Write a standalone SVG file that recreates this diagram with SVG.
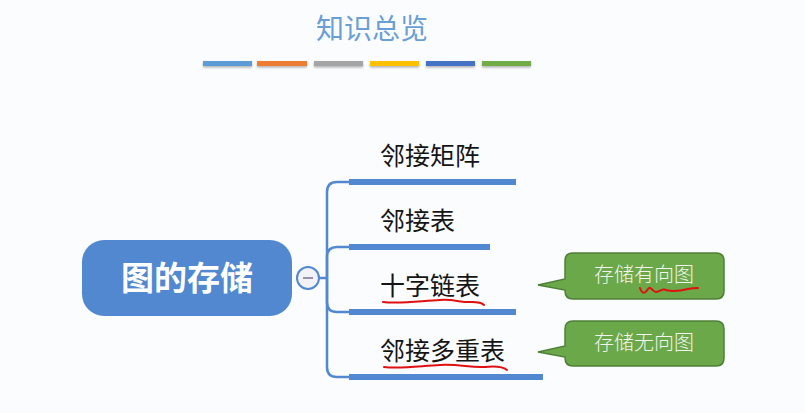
<svg xmlns="http://www.w3.org/2000/svg" width="805" height="413" viewBox="0 0 805 413">
<defs>
<style>
.t{font-family:"Noto Sans CJK SC","Liberation Sans",sans-serif}
.br{font-size:25px;fill:#151515}
.bar{fill:#5188d0}
.ln{fill:none;stroke:#5188d0;stroke-width:2.5}
.cb{fill:#6aa84a;stroke:#4f7f37;stroke-width:1.5}
.ct{font-size:20px;fill:#f2f5ee;font-weight:300}
.red{fill:none;stroke:#e01010;stroke-width:2;stroke-linecap:round;stroke-linejoin:round}
</style>
<filter id="sh" x="-10%" y="-50%" width="120%" height="250%"><feDropShadow dx="0" dy="1.5" stdDeviation="1" flood-color="#000" flood-opacity="0.3"/></filter>
</defs>
<rect width="805" height="413" fill="#fbfcfe"/>
<g id="title">
<text class="t" x="372" y="39" font-size="28" fill="#6a9fd4" text-anchor="middle">知识总览</text>
<g filter="url(#sh)">
<rect x="203" y="61" width="49" height="5" fill="#5b9bd5"/>
<rect x="257" y="61" width="50" height="5" fill="#ed7d31"/>
<rect x="314" y="61" width="49" height="5" fill="#a5a5a5"/>
<rect x="370" y="61" width="49" height="5" fill="#ffc000"/>
<rect x="426" y="61" width="49" height="5" fill="#4472c4"/>
<rect x="482" y="61" width="49" height="5" fill="#70ad47"/>
</g>
</g>
<g id="connectors">
<path class="ln" d="M319 278 H327"/>
<path class="ln" d="M350 182 H337 Q327 182 327 192 V367 Q327 377 337 377 H350"/>
<path class="ln" d="M350 247 H337 Q327 247 327 257 V302 Q327 312 337 312 H350"/>
</g>
<g id="root">
<rect x="82" y="240" width="210" height="76" rx="22" fill="#5188d0"/>
<text class="t" x="187" y="290" font-size="33" font-weight="bold" fill="#ffffff" text-anchor="middle">图的存储</text>
</g>
<g id="collapse">
<circle cx="308" cy="278" r="11" fill="#f2f2f7" stroke="#5188d0" stroke-width="2"/>
<path d="M303 278 H313" stroke="#7a6f9a" stroke-width="1.5"/>
</g>
<g id="n1">
<rect class="bar" x="349" y="179" width="167" height="6"/>
<text class="t br" x="380" y="165">邻接矩阵</text>
</g>
<g id="n2">
<rect class="bar" x="349" y="244" width="141" height="6"/>
<text class="t br" x="380" y="230">邻接表</text>
</g>
<g id="n3">
<rect class="bar" x="349" y="309" width="167" height="6"/>
<text class="t br" x="380" y="295">十字链表</text>
<path class="red" d="M383 302 C400 304 420 301 440 300 C455 299 462 303 472 302 C478 302 482 303 484 305"/>
</g>
<g id="n4">
<rect class="bar" x="349" y="374" width="194" height="6"/>
<text class="t br" x="380" y="360">邻接多重表</text>
<path class="red" d="M384 367 C400 369 420 366 440 365 C460 364 470 368 485 367 C495 366 502 366 507 370"/>
</g>
<g id="c1">
<path class="cb" d="M573 253 H716 Q724 253 724 261 V291 Q724 299 716 299 H573 Q565 299 565 291 V290 L538 285 L565 279 V261 Q565 253 573 253 Z"/>
<text class="t ct" x="644" y="282" text-anchor="middle">存储有向图</text>
<path class="red" d="M640 288 C642 294 645 294 648 289 C651 285 652 292 656 292 C660 292 662 288 666 290 C672 292 680 291 688 289 C692 288 696 288 698 288"/>
</g>
<g id="c2">
<path class="cb" d="M573 321 H716 Q724 321 724 329 V358 Q724 366 716 366 H573 Q565 366 565 358 V357 L538 352 L565 346 V329 Q565 321 573 321 Z"/>
<text class="t ct" x="644" y="350" text-anchor="middle">存储无向图</text>
</g>
</svg>
